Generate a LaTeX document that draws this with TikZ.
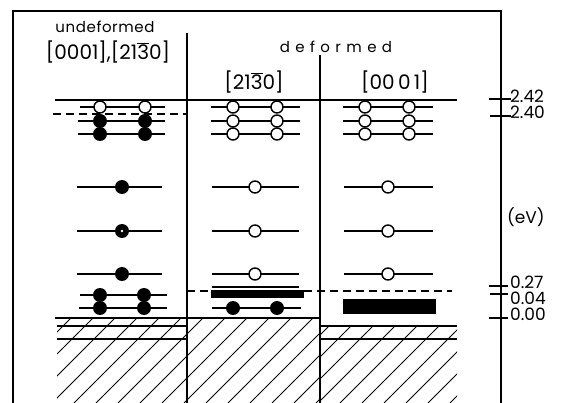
\documentclass[tikz,border=0pt]{standalone}
\usepackage{fontspec}
\setmainfont{Poppins}
\newfontfamily\labfont[LetterSpace=4]{Poppins}
\newfontfamily\widefont[LetterSpace=36]{Poppins}
\begin{document}
\begin{tikzpicture}[x=1pt,y=-1pt,
  frame/.style={line width=1.1pt},
  lvl/.style={line width=1.2pt},
  occ/.style={circle, fill=black, inner sep=0pt, minimum size=14pt},
  emp/.style={circle, draw=black, fill=white, line width=1.4pt, inner sep=0pt, minimum size=12pt},
  hatch/.style={line width=0.9pt},
  dsh/.style={line width=1.1pt, dash pattern=on 8pt off 5pt},
  band/.style={fill=black},
  tick/.style={line width=1.1pt},
  val/.style={anchor=west, inner sep=0pt, text height=11pt, text depth=0pt, font=\fontsize{17}{17}\selectfont}]
\useasboundingbox (0,0) rectangle (570,403);
% frame and dividers
\draw[frame] (501,403) -- (501,11) -- (13,11) -- (13,403);
\draw[frame] (187,33) -- (187,403);
\draw[frame] (320,55) -- (320,403);
% headers
\node (hu) at (105,27) {\fontsize{15}{15}\selectfont\labfont undeformed};
\node (hd) at (336,47) {\fontsize{15}{15}\selectfont\widefont deformed};
\node (h1) at (108,52) {\fontsize{20}{20}\selectfont [0001],[21$\overline{\mbox{3}}$0]};
\node (h2) at (254,82) {\fontsize{20}{20}\selectfont [21$\overline{\mbox{3}}$0]};
\node (h3) at (395,82) {\fontsize{20}{20}\selectfont [00\,0\,1]};
% top line and dashed line
\draw[lvl] (55,100) -- (457,100);
\draw[dsh] (53,114) -- (187,114);
% column 1 upper levels
\draw[lvl] (80,107) -- (165,107);
\draw[lvl] (78,121) -- (165,121);
\draw[lvl] (78,134) -- (165,134);
\node[occ] (a21) at (100,121) {}; \node[occ] (a22) at (145,121) {};
\node[occ] (a31) at (100,134) {}; \node[occ] (a32) at (145,134) {};
\node[emp] (a11) at (100,107) {}; \node[emp] (a12) at (145,107) {};
% columns 2 and 3 upper levels
\foreach \y/\k in {107/1,121/2,134/3}{
  \draw[lvl] (211,\y) -- (300,\y);
  \draw[lvl] (343,\y) -- (433,\y);
}
\foreach \y/\k in {134/3,121/2,107/1}{
  \node[emp] (b\k1) at (233,\y) {}; \node[emp] (b\k2) at (277,\y) {};
  \node[emp] (c\k1) at (365,\y) {}; \node[emp] (c\k2) at (409,\y) {};
}
% middle levels
\foreach \y/\k in {187/4,231/5,274/6}{
  \draw[lvl] (77,\y) -- (162,\y);
  \draw[lvl] (212,\y) -- (299,\y);
  \draw[lvl] (344,\y) -- (433,\y);
  \node[emp] (b\k) at (255,\y) {};
  \node[emp] (c\k) at (388,\y) {};
}
\node[occ] (a4) at (122,187) {};
\node[occ] (a5) at (122,231) {};
\fill[white] (a5.center) circle (1.4pt);
\node[occ] (a6) at (122,274) {};
% column 1 lower levels
\draw[lvl] (80,295) -- (167,295);
\draw[lvl] (79,308) -- (167,308);
\node[occ] (a71) at (100,295) {}; \node[occ] (a72) at (144,295) {};
\node[occ] (a81) at (100,308) {}; \node[occ] (a82) at (144,308) {};
% column 2 lower levels
\draw[lvl] (212,287) -- (299,287);
\draw[band] (211,290) rectangle (303,297);
\draw[lvl] (212,308) -- (301,308);
\node[occ] (b71) at (233,308) {}; \node[occ] (b72) at (277,308) {};
% column 3 band
\draw[band] (343,299) rectangle (435,313);
% dashed line
\draw[dsh] (187,291) -- (452,291);
% hatched regions
\begin{scope}
\clip (57,318) rectangle (320,403);
\foreach \x in {-80,-58,...,320}{ \draw[hatch] (\x,403) -- (\x+100,303); }
\end{scope}
\begin{scope}
\clip (320,326) rectangle (457,403);
\foreach \x in {230,252,...,460}{ \draw[hatch] (\x,403) -- (\x+100,303); }
\end{scope}
\draw[lvl] (55,318) -- (320,318);
\draw[lvl] (57,326) -- (187,326);
\draw[lvl] (57,339) -- (187,339);
\draw[lvl] (320,326) -- (457,326);
\draw[lvl] (320,339) -- (457,339);
% axis ticks and labels
\draw[tick] (489,99) -- (511,99);
\draw[tick] (490,116) -- (511,116);
\draw[tick] (489,286) -- (508,286);
\draw[tick] (490,294) -- (508,294);
\draw[tick] (489,318) -- (508,318);
\node[val] (v1) at (510,97) {2.42};
\node[val] (v2) at (510,113) {2.40};
\node[val] (ev) at (507,218) {(eV)};
\node[val] (v3) at (510,283) {0.27};
\node[val] (v4) at (510,299) {0.04};
\node[val] (v5) at (510,315) {0.00};
\end{tikzpicture}
\end{document}
